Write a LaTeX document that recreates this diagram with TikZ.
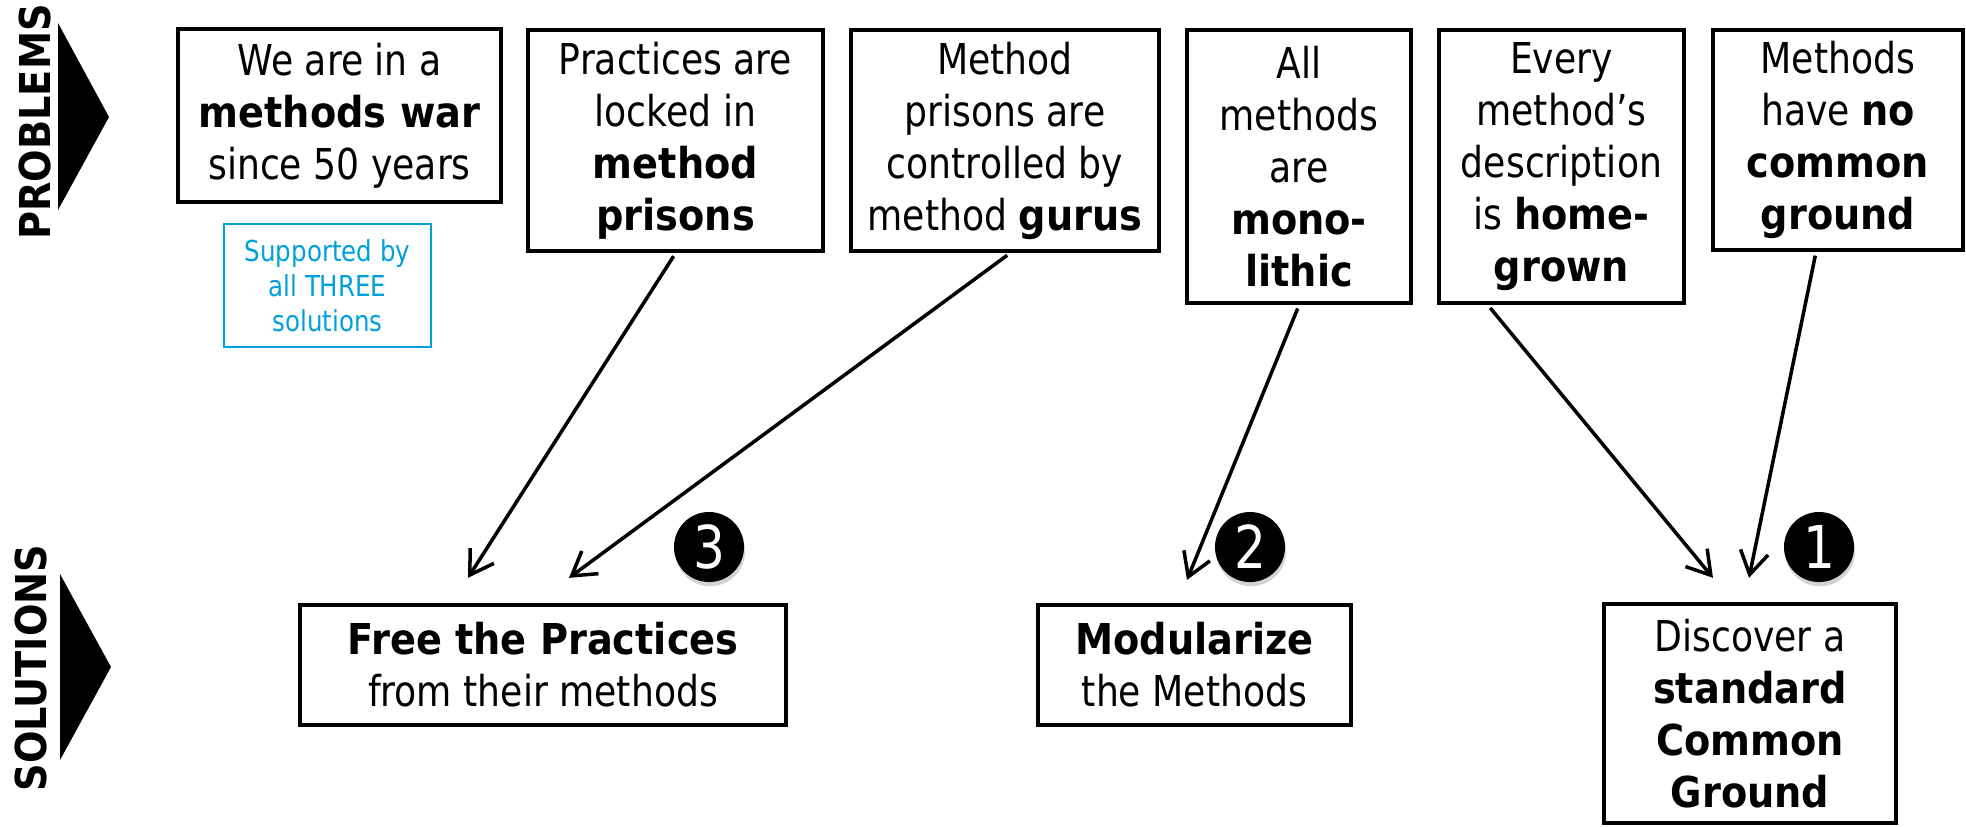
\documentclass[tikz,border=0pt]{standalone}
\usepackage{fontspec}
\setmainfont{DejaVu Sans}[FakeStretch=0.85,BoldFeatures={FakeStretch=0.9}]
\usetikzlibrary{arrows.meta,shadows}
\definecolor{supblue}{RGB}{0,160,220}

\begin{document}
\begin{tikzpicture}[
    x=0.01cm, y=-0.01cm,
    problem/.style={
      draw,
      line width=1.2pt,
      inner sep=0pt,
      align=center,
      font=\fontsize{12.1}{14.8}\selectfont
    },
    solution/.style={
      problem
    },
    note/.style={
      draw=supblue,
      text=supblue,
      line width=0.5pt,
      inner sep=0pt,
      minimum width=2.07cm,
      minimum height=1.23cm,
      align=center,
      font=\fontsize{8.2}{9.9}\selectfont
    },
    number/.style={
      circle,
      fill=black,
      text=white,
      inner sep=0pt,
      minimum size=0.7cm,
      font=\fontsize{16.8}{18}\selectfont,
      drop shadow={shadow xshift=0.3pt, shadow yshift=-1.2pt, opacity=0.35}
    },
    heading/.style={
      rotate=90,
      font=\fontsize{12.1}{14}\selectfont\bfseries
    },
    arrow/.style={
      -{Straight Barb[length=6.5pt,width=8pt]},
      line width=1pt,
      shorten <=1pt
    }
  ]
    \useasboundingbox (0,0) rectangle (1966,826);

    \node[heading] (problems) at (35.5,122) {PROBLEMS};
    \node[heading] (solutions) at (31,668) {SOLUTIONS};
    \fill (58,23) -- (109,117) -- (58,210) -- cycle;
    \fill (60,574) -- (111,667) -- (60,760) -- cycle;

    \node[problem, minimum width=3.23cm, minimum height=1.73cm] (war) at (339.5,115.5) {We are in a\\\textbf{methods war}\\since 50 years};
    \node[problem, minimum width=2.95cm, minimum height=2.21cm] (prisons) at (675.5,140.5) {Practices are\\locked in\\\textbf{method}\\\textbf{prisons}};
    \node[problem, minimum width=3.08cm, minimum height=2.21cm] (gurus) at (1005,140.5) {Method\\prisons are\\controlled by\\method \textbf{gurus}};
    \node[problem, minimum width=2.24cm, minimum height=2.73cm] (monolithic) at (1299,166.5) {All\\methods\\are\\\textbf{mono-}\\\textbf{lithic}};
    \node[problem, minimum width=2.45cm, minimum height=2.73cm] (homegrown) at (1561.5,166.5) {Every\\method’s\\description\\is \textbf{home-}\\\textbf{grown}};
    \node[problem, minimum width=2.50cm, minimum height=2.20cm] (noground) at (1838,140) {Methods\\have \textbf{no}\\\textbf{common}\\\textbf{ground}};

    \node[note] (supported) at (327.5,285.5) {Supported by\\all THREE\\solutions};

    \node[solution, minimum width=4.86cm, minimum height=1.2cm] (free) at (543,665) {\textbf{Free the Practices}\\from their methods};
    \node[solution, minimum width=3.13cm, minimum height=1.2cm] (modular) at (1194.5,665) {\textbf{Modularize}\\the Methods};
    \node[solution, minimum width=2.92cm, minimum height=2.19cm] (discover) at (1750,713.5) {Discover a\\\textbf{standard}\\\textbf{Common}\\\textbf{Ground}};

    \node[number] (three) at (709,547) {3};
    \node[number] (two) at (1250,547) {2};
    \node[number] (one) at (1819,547) {1};

    \path[arrow]
      (prisons.south) edge ([xshift=-0.75cm,yshift=0.25cm]free.north)
      ([xshift=0.05cm]gurus.south) edge ([xshift=0.26cm,yshift=0.25cm]free.north)
      (monolithic.south) edge ([xshift=-0.075cm,yshift=0.23cm]modular.north)
      ([xshift=-0.735cm]homegrown.south) edge ([xshift=-0.37cm,yshift=0.24cm]discover.north)
      ([xshift=-0.22cm]noground.south) edge ([xshift=-0.01cm,yshift=0.24cm]discover.north);
  \end{tikzpicture}
\end{document}
